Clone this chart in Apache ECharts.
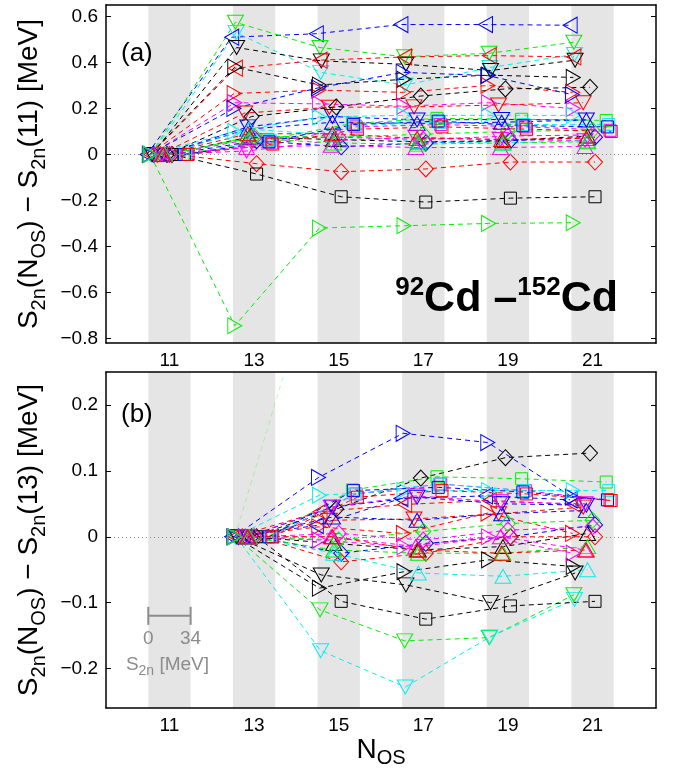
<!DOCTYPE html>
<html>
<head>
<meta charset="utf-8">
<script src="https://cdn.jsdelivr.net/npm/echarts@6/dist/echarts.min.js"></script>
<style>html,body{margin:0;padding:0;background:#fff;}#c{width:675px;height:769px;}</style>
</head>
<body>
<div id="c"></div>
<script>
// ---- data ----
const nosA = [11, 13, 15, 17, 19, 21];
const nosB = [13, 15, 17, 19, 21];
const bandCenters = [11, 13, 15, 17, 19, 21];
const xTicks = [11, 13, 15, 17, 19, 21];
const yTicksA = [-0.8, -0.6, -0.4, -0.2, 0, 0.2, 0.4, 0.6];
const yTicksB = [-0.2, -0.1, 0, 0.1, 0.2];
const s2nScaleMax = 34; // MeV spanned by one grey band
const scaleBarLabels = ['0', '34'];

const seriesColor = ['blue','green','cyan','black','red','black','red','magenta','blue','red',
  'black','cyan','blue','blue','black','green','magenta','magenta','blue','red',
  'black','cyan','green','green','magenta','cyan','blue','red','magenta','green','red'];
const seriesMarker = ['lt','dn','dn','dn','lt','rt','rt','rt','rt','dn',
  'di','rt','dn','up','up','sq','sq','dn','di','di',
  'sq','up','rt','di','di','sq','sq','sq','up','up','up'];
const seriesS2n = [-1.0, 2.0, 2.5, 3.0, 2.0, 1.5, 1.0, 1.5, 0.8, 9.5,
  15, 1.5, 12, 12, 13, 28, 31, 11, 19, 19,
  19, 13, 1.5, 17, 17, 30, 29, 32, 11, 13, 12];

// S2n(N_OS) - S2n(11), N_OS = 11..21
const valuesA = [
  [0, 0.51, 0.525, 0.565, 0.565, 0.562],
  [0, 0.575, 0.465, 0.425, 0.44, 0.488],
  [0, 0.53, 0.357, 0.302, 0.378, 0.435],
  [0, 0.465, 0.407, 0.392, 0.365, 0.41],
  [0, 0.375, 0.41, 0.424, 0.43, 0.424],
  [0, 0.38, 0.302, 0.327, 0.345, 0.335],
  [0, 0.265, 0.28, 0.27, 0.30, 0.27],
  [0, 0.225, 0.22, 0.21, 0.225, 0.20],
  [0, 0.20, 0.29, 0.357, 0.343, 0.26],
  [0, 0.18, 0.205, 0.207, 0.215, 0.225],
  [0, 0.165, 0.207, 0.254, 0.285, 0.292],
  [0, 0.10, 0.163, 0.17, 0.17, 0.17],
  [0, 0.12, 0.165, 0.15, 0.152, 0.15],
  [0, 0.11, 0.14, 0.135, 0.14, 0.15],
  [0, 0.075, 0.065, 0.055, 0.06, 0.08],
  [0, 0.065, 0.135, 0.157, 0.153, 0.148],
  [0, 0.05, 0.12, 0.13, 0.12, 0.105],
  [0, 0.015, 0.06, 0.075, 0.065, 0.06],
  [0, 0.06, 0.033, 0.05, 0.06, 0.075],
  [0, -0.04, -0.075, -0.063, -0.033, -0.033],
  [0, -0.085, -0.184, -0.207, -0.19, -0.184],
  [0, 0.11, 0.085, 0.055, 0.05, 0.06],
  [0, -0.745, -0.32, -0.31, -0.3, -0.297],
  [0, 0.08, 0.075, 0.088, 0.1, 0.105],
  [0, 0.07, 0.075, 0.065, 0.08, 0.085],
  [0, 0.06, 0.125, 0.14, 0.13, 0.13],
  [0, 0.055, 0.13, 0.145, 0.125, 0.12],
  [0, 0.045, 0.11, 0.12, 0.11, 0.1],
  [0, 0.03, 0.04, 0.03, 0.03, 0.035],
  [0, 0.07, 0.05, 0.045, 0.05, 0.055],
  [0, 0.09, 0.09, 0.07, 0.065, 0.07]
];
// S2n(N_OS) - S2n(13), N_OS = 13..21
const valuesB = [
  [0, 0.017, 0.058, 0.062, 0.056],
  [0, -0.111, -0.158, -0.153, -0.088],
  [0, -0.173, -0.228, -0.152, -0.095],
  [0, -0.058, -0.073, -0.1, -0.055],
  [0, 0.038, 0.049, 0.055, 0.049],
  [0, -0.078, -0.053, -0.035, -0.045],
  [0, 0.015, 0.005, 0.036, 0.005],
  [0, -0.005, -0.015, 0, -0.025],
  [0, 0.09, 0.157, 0.143, 0.06],
  [0, 0.025, 0.027, 0.035, 0.045],
  [0, 0.042, 0.089, 0.12, 0.127],
  [0, 0.063, 0.07, 0.07, 0.07],
  [0, 0.045, 0.06, 0.05, 0.048],
  [0, 0.03, 0.025, 0.035, 0.04],
  [0, -0.01, -0.02, -0.015, 0.005],
  [0, 0.071, 0.091, 0.088, 0.083],
  [0, 0.065, 0.08, 0.07, 0.055],
  [0, 0.045, 0.062, 0.053, 0.05],
  [0, -0.025, -0.01, 0, 0.018],
  [0, -0.038, -0.025, 0, 0],
  [0, -0.098, -0.125, -0.105, -0.098],
  [0, -0.025, -0.055, -0.06, -0.05],
  [0, 0.425, 0.435, 0.445, 0.448],
  [0, -0.005, 0.008, 0.02, 0.025],
  [0, 0.005, -0.005, 0.01, 0.015],
  [0, 0.065, 0.08, 0.07, 0.07],
  [0, 0.07, 0.075, 0.068, 0.056],
  [0, 0.06, 0.07, 0.065, 0.055],
  [0, 0, -0.015, 0, -0.02],
  [0, -0.02, -0.025, -0.025, -0.015],
  [0, 0, -0.02, -0.025, -0.02]
];

// ---- styling ----
const FONT = 'Liberation Sans, Arial, Helvetica, sans-serif';
const colorMap = {blue:'#0000ff', green:'#00f000', red:'#ff0000', cyan:'#00f0f0', magenta:'#ff00ff', black:'#000000'};
const markerDef = {
  sq: {symbol:'rect', size:[12,12], rot:0},
  di: {symbol:'diamond', size:[15,16], rot:0},
  up: {symbol:'triangle', size:[16,14], rot:0},
  dn: {symbol:'triangle', size:[16,14], rot:180},
  lt: {symbol:'triangle', size:[16,14], rot:90},
  rt: {symbol:'triangle', size:[16,14], rot:-90}
};

const chart = echarts.init(document.getElementById('c'), null, {renderer:'canvas'});

function minusFmt(v){ return v < 0 ? '\u2212' + Math.abs(v) : String(v); }

function makeSeries(panel, ymax){
  const out = [];
  const nos = panel === 0 ? nosA : nosB;
  const vals = panel === 0 ? valuesA : valuesB;
  // grey bands + zero line
  out.push({
    type:'line', xAxisIndex: panel*2, yAxisIndex: panel*2, data:[], symbol:'none', silent:true, z:1,
    markArea:{silent:true, itemStyle:{color:'#e5e5e5'},
      data: bandCenters.map(n => [{xAxis:n-0.5},{xAxis:n+0.5}])},
    markLine:{silent:true, symbol:'none', label:{show:false},
      lineStyle:{color:'#8a8a8a', type:[1,3], width:1.2},
      data:[{yAxis:0}]}
  });
  for (let i = 0; i < vals.length; i++){
    const c = colorMap[seriesColor[i]];
    const m = markerDef[seriesMarker[i]];
    const off = seriesS2n[i] / s2nScaleMax - 0.5;
    const offChart = Math.max(...vals[i]) > ymax; // steep clipped line renders faint in original
    out.push({
      type:'line', xAxisIndex: panel*2, yAxisIndex: panel*2, z:3,
      data: nos.map((n, k) => [n + off, vals[i][k]]),
      symbol: m.symbol, symbolSize: m.size, symbolRotate: m.rot, showSymbol:true,
      lineStyle:{color:c, width:1, type:[5,4], opacity: offChart ? 0.25 : 1},
      itemStyle:{color:'rgba(255,255,255,0)', borderColor:c, borderWidth:1},
      emphasis:{disabled:true}, animation:false, clip:true
    });
  }
  return out;
}

function xAxes(grid, withName){
  const base = {
    gridIndex: grid, type:'value', min:9.5, max:22.5, z:10,
    axisLine:{show:true, onZero:false, lineStyle:{color:'#000', width:1.5}},
    axisTick:{show:false}, splitLine:{show:false}
  };
  const bottom = Object.assign({}, base, {
    position:'bottom',
    axisLabel:{show:true, customValues:xTicks, color:'#000', fontSize:19, fontFamily:FONT, margin:8}
  });
  if (withName){
    bottom.name = '{m|N}{s|OS}';
    bottom.nameLocation = 'middle';
    bottom.nameGap = 17;
    bottom.nameTextStyle = {rich:{
      m:{fontSize:28, fontFamily:FONT, color:'#000', lineHeight:36},
      s:{fontSize:20, fontFamily:FONT, color:'#000', lineHeight:12, verticalAlign:'bottom'}
    }};
  }
  const top = Object.assign({}, base, {position:'top', axisLabel:{show:false}});
  return [bottom, top];
}

function yAxes(grid, min, max, ticks, nameTxt){
  const left = {
    gridIndex: grid, type:'value', min:min, max:max, position:'left', z:10,
    axisLine:{show:true, onZero:false, lineStyle:{color:'#000', width:1.5}},
    axisTick:{show:true, inside:true, length:5, customValues:ticks, lineStyle:{color:'#000'}},
    axisLabel:{show:true, customValues:ticks, formatter:minusFmt, color:'#000', fontSize:19, fontFamily:FONT, margin:8},
    splitLine:{show:false},
    name: nameTxt, nameLocation:'middle', nameRotate:90, nameGap:56,
    nameTextStyle:{rich:{
      m:{fontSize:28, fontFamily:FONT, color:'#000', lineHeight:40},
      s:{fontSize:20, fontFamily:FONT, color:'#000', lineHeight:14, verticalAlign:'bottom'}
    }}
  };
  const right = {
    gridIndex: grid, type:'value', min:min, max:max, position:'right', z:10,
    axisLine:{show:true, onZero:false, lineStyle:{color:'#000', width:1.5}},
    axisTick:{show:true, inside:true, length:5, customValues:ticks, lineStyle:{color:'#000'}},
    axisLabel:{show:false}, splitLine:{show:false}
  };
  return [left, right];
}

const option = {
  animation:false,
  backgroundColor:'#fff',
  grid:[
    {left:106, right:19, top:5, height:338},
    {left:106, right:19, top:372, height:337}
  ],
  xAxis: [...xAxes(0,false), ...xAxes(1,true)],
  yAxis: [
    ...yAxes(0, -0.82, 0.65, yTicksA, '{m|S}{s|2n}{m|(N}{s|OS}{m|) \u2212 S}{s|2n}{m|(11) [MeV]}'),
    ...yAxes(1, -0.26, 0.25, yTicksB, '{m|S}{s|2n}{m|(N}{s|OS}{m|) \u2212 S}{s|2n}{m|(13) [MeV]}')
  ],
  series: [...makeSeries(0, 0.65), ...makeSeries(1, 0.25)]
};
chart.setOption(option);

// ---- annotations ----
const pL = chart.convertToPixel({xAxisIndex:2, yAxisIndex:2}, [bandCenters[0]-0.5, -0.12]);
const pR = chart.convertToPixel({xAxisIndex:2, yAxisIndex:2}, [bandCenters[0]+0.5, -0.12]);
const grey = '#8c8c8c';
chart.setOption({
  graphic:[
    {type:'text', left:121, top:41, z:20, style:{text:'(a)', font:'26px ' + FONT, fill:'#000'}},
    {type:'text', left:121, top:402, z:20, style:{text:'(b)', font:'26px ' + FONT, fill:'#000'}},
    {type:'text', z:20, x:618, y:299, style:{
      text:'{p|92}{b|Cd \u2013}{p|152}{b|Cd}', align:'right', verticalAlign:'middle',
      rich:{
        b:{fontSize:43, fontWeight:'bold', fontFamily:FONT, fill:'#000', lineHeight:48},
        p:{fontSize:26, fontWeight:'bold', fontFamily:FONT, fill:'#000', lineHeight:10, verticalAlign:'top'}
      }}},
    {type:'line', z:20, shape:{x1:pL[0], y1:pL[1], x2:pR[0], y2:pR[1]}, style:{stroke:grey, lineWidth:2}},
    {type:'line', z:20, shape:{x1:pL[0], y1:pL[1]-9, x2:pL[0], y2:pL[1]+9}, style:{stroke:grey, lineWidth:2}},
    {type:'line', z:20, shape:{x1:pR[0], y1:pR[1]-9, x2:pR[0], y2:pR[1]+9}, style:{stroke:grey, lineWidth:2}},
    {type:'text', z:20, x:pL[0], y:pL[1]+23, style:{text:scaleBarLabels[0], align:'center', verticalAlign:'middle', font:'19px ' + FONT, fill:grey}},
    {type:'text', z:20, x:pR[0], y:pR[1]+23, style:{text:scaleBarLabels[1], align:'center', verticalAlign:'middle', font:'19px ' + FONT, fill:grey}},
    {type:'text', z:20, x:(pL[0]+pR[0])/2-2, y:pL[1]+49, style:{
      text:'{m|S}{s|2n}{m| [MeV]}', align:'center', verticalAlign:'middle',
      rich:{
        m:{fontSize:19, fontFamily:FONT, fill:grey, lineHeight:26},
        s:{fontSize:14, fontFamily:FONT, fill:grey, lineHeight:10, verticalAlign:'bottom'}
      }}}
  ]
});
</script>
</body>
</html>
